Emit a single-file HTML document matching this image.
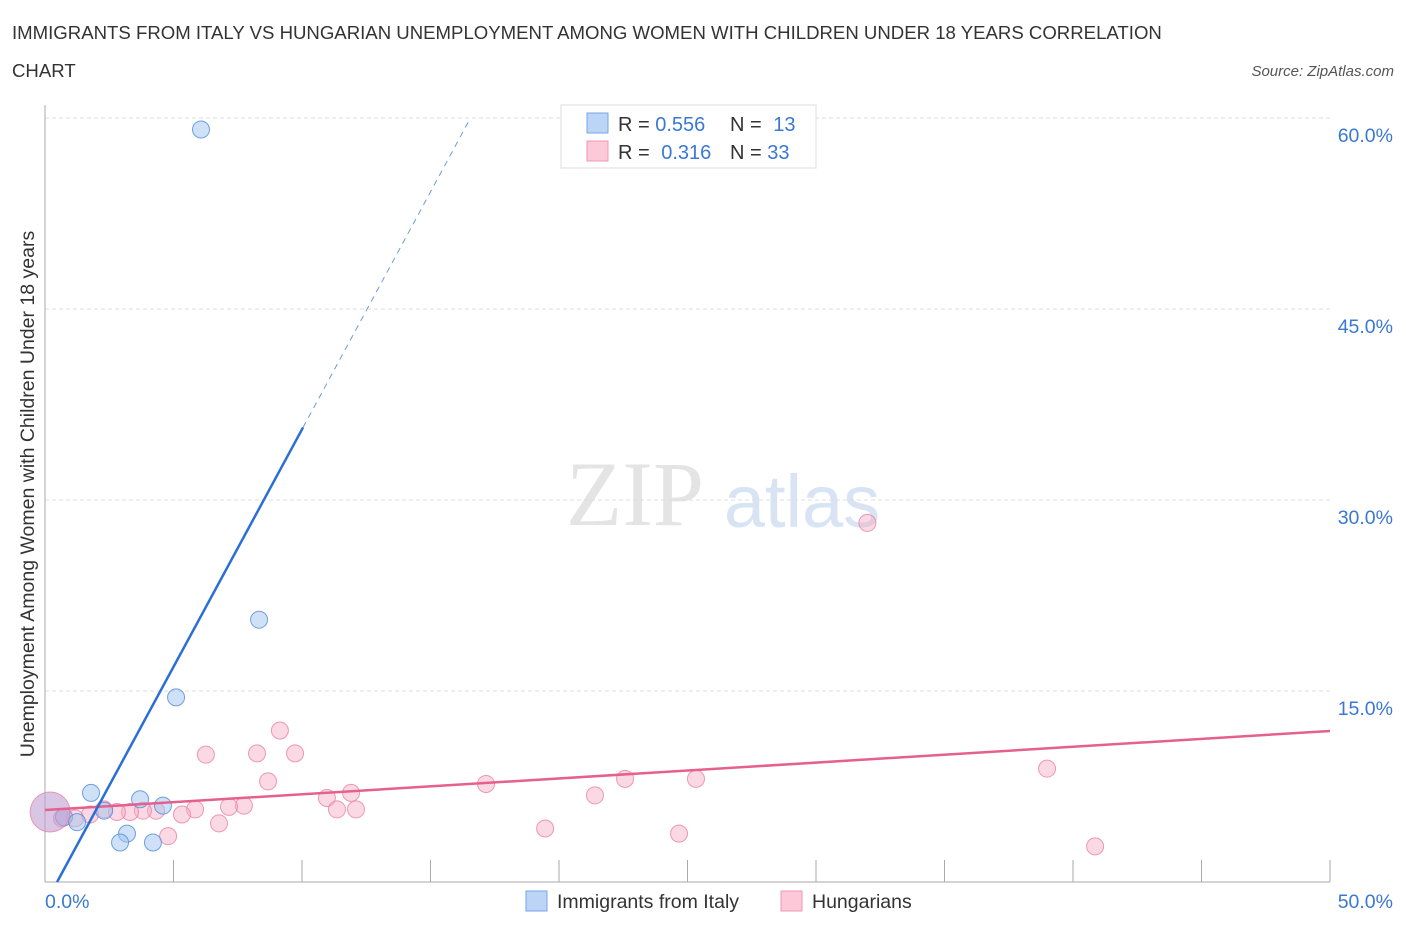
<!DOCTYPE html>
<html><head><meta charset="utf-8"><style>
body{margin:0;background:#fff;font-family:"Liberation Sans",sans-serif;}
svg text{font-family:"Liberation Sans",sans-serif;}
</style></head><body>
<svg id="chart" width="1406" height="930">
<text x="12" y="39" font-size="18.6" fill="#333">IMMIGRANTS FROM ITALY VS HUNGARIAN UNEMPLOYMENT AMONG WOMEN WITH CHILDREN UNDER 18 YEARS CORRELATION</text>
<text x="12" y="77" font-size="18.6" fill="#333">CHART</text>
<text x="1394" y="76" font-size="15" fill="#555" font-style="italic" text-anchor="end">Source: ZipAtlas.com</text>
<text x="34" y="494" font-size="19.5" fill="#333" text-anchor="middle" transform="rotate(-90 34 494)">Unemployment Among Women with Children Under 18 years</text>
<g>
<text x="635" y="525" font-size="92" fill="#e4e4e4" text-anchor="middle" style="font-family:'Liberation Serif',serif">ZIP</text>
<text x="802" y="527" font-size="74" fill="#d8e4f4" text-anchor="middle">atlas</text>
</g>
<g id="grid"></g>
<g id="axes"></g>
<g id="marks"></g>
<g>
<rect x="561" y="105" width="255" height="63" fill="#fff" stroke="#ddd"/>
<rect x="587" y="113" width="21" height="20" fill="#bcd4f5" stroke="#7aa6e6"/>
<rect x="587" y="141" width="21" height="20" fill="#fbc9d8" stroke="#ef98b4"/>
<text x="618" y="131" font-size="20" fill="#333">R = <tspan fill="#3a78d4">0.556</tspan></text>
<text x="730" y="131" font-size="20" fill="#333">N = <tspan fill="#3a78d4" dx="6">13</tspan></text>
<text x="618" y="159" font-size="20" fill="#333">R = <tspan fill="#3a78d4" dx="6">0.316</tspan></text>
<text x="730" y="159" font-size="20" fill="#333">N = <tspan fill="#3a78d4">33</tspan></text>
</g>
<g>
<rect x="526" y="891" width="21" height="20" fill="#bcd4f5" stroke="#7aa6e6"/>
<text x="557" y="908" font-size="19.5" fill="#333">Immigrants from Italy</text>
<rect x="781" y="891" width="21" height="20" fill="#fbc9d8" stroke="#ef98b4"/>
<text x="812" y="908" font-size="19.5" fill="#333">Hungarians</text>
</g>
</svg>
<script>
const yTicks=[15,30,45,60];
const yTickLabels=["15.0%","30.0%","45.0%","60.0%"];
const xTicks=[0,5,10,15,20,25,30,35,40,45,50];
const italyX=[6.07,8.33,5.10,1.79,3.70,4.59,2.30,0.74,1.25,3.19,2.92,4.20];
const italyY=[59.1,20.6,14.5,7.0,6.5,6.0,5.6,5.1,4.7,3.8,3.1,3.1];
const hungX=[32.0,9.14,6.26,8.25,9.73,8.68,17.16,22.57,25.33,38.99,10.97,11.91,12.10,11.36,7.74,7.16,5.84,5.33,6.77,4.79,4.32,3.81,3.31,2.80,2.30,1.75,1.17,0.66,19.46,21.40,24.67,40.86];
const hungY=[28.2,11.9,10.0,10.1,10.1,7.9,7.7,8.1,8.1,8.9,6.6,7.0,5.7,5.7,6.0,5.9,5.7,5.3,4.6,3.6,5.6,5.6,5.5,5.5,5.7,5.3,5.0,5.0,4.2,6.8,3.8,2.8];
const bigPoint=[0.2,5.5];
const italyTrend=[0.47,3.73];
const hungTrend=[5.65,0.1242];
const X=v=>45+v*25.7, Y=v=>882-v*764/60;
const NS="http://www.w3.org/2000/svg";
function mk(t,a,p){const e=document.createElementNS(NS,t);for(const k in a)e.setAttribute(k,a[k]);p.appendChild(e);return e;}
const grid=document.getElementById('grid'),axes=document.getElementById('axes'),marks=document.getElementById('marks');
yTicks.forEach((v,i)=>{
 const l=mk('line',{x1:45,x2:1330,y1:Y(v),y2:Y(v),stroke:'#ddd','stroke-dasharray':'4,3'},grid);
 
 
 const t=mk('text',{x:1393,y:Y(v)+24,'font-size':19.5,fill:'#3a78d4','text-anchor':'end'},axes);
 t.textContent=yTickLabels[i];
 
 
});
const ax=mk('line',{x1:45,x2:45,y1:105,y2:882,stroke:'#aaa'},axes);


const bx=mk('line',{x1:45,x2:1330,y1:882,y2:882,stroke:'#aaa'},axes);


xTicks.forEach(v=>{
 const l=mk('line',{x1:X(v),x2:X(v),y1:860,y2:882,stroke:'#aaa'},axes);
 
 
});
const t0=mk('text',{x:45,y:908,'font-size':19.5,fill:'#3a78d4'},axes);t0.textContent='0.0%';


const t1=mk('text',{x:1393,y:908,'font-size':19.5,fill:'#3a78d4','text-anchor':'end'},axes);t1.textContent='50.0%';


hungX.forEach((x,i)=>{
 const c=mk('circle',{cx:X(x),cy:Y(hungY[i]),r:8.5,fill:'rgba(246,170,195,0.45)',stroke:'rgba(232,130,165,0.8)'},marks);
 
 
});
italyX.forEach((x,i)=>{
 const c=mk('circle',{cx:X(x),cy:Y(italyY[i]),r:8.5,fill:'rgba(160,195,240,0.5)',stroke:'rgba(80,140,220,0.8)'},marks);
 
 
});
const bp=mk('circle',{cx:X(bigPoint[0]),cy:Y(bigPoint[1]),r:20,fill:'rgba(190,160,210,0.6)',stroke:'rgba(232,130,165,0.8)'},marks);


const ph=mk('line',{x1:X(0),y1:Y(hungTrend[0]),x2:X(50),y2:Y(hungTrend[0]+50*hungTrend[1]),stroke:'#e5608c','stroke-width':2.5},marks);


const xs=italyTrend[0]+35.7/italyTrend[1];
const pi=mk('line',{x1:X(italyTrend[0]),y1:Y(0),x2:X(xs),y2:Y(35.7),stroke:'#2a6fd6','stroke-width':2.5},marks);


const xe=italyTrend[0]+60/italyTrend[1];
const pd=mk('line',{x1:X(xs),y1:Y(35.7),x2:X(xe),y2:Y(60),stroke:'#6a9de0','stroke-width':1,'stroke-dasharray':'6,5'},marks);


</script>
</body></html>
